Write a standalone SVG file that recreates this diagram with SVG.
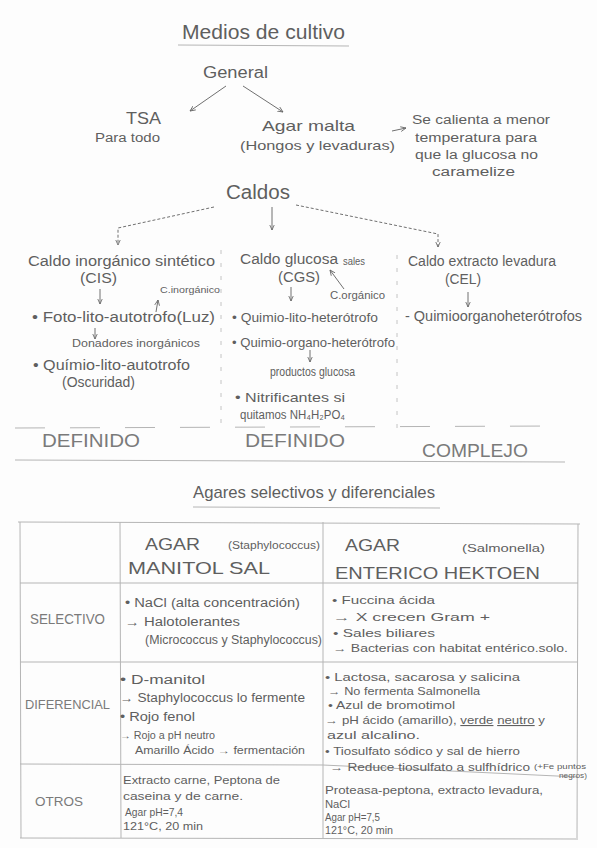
<svg xmlns="http://www.w3.org/2000/svg" width="597" height="848" viewBox="0 0 597 848">
<defs>
<marker id="ah" viewBox="0 0 10 10" refX="9" refY="5" markerWidth="6" markerHeight="6" orient="auto-start-reverse">
<path d="M0 1 L9 5 L0 9" fill="none" stroke="#666" stroke-width="1.4"/>
</marker>
<style>
.t{font-family:"Liberation Sans",Arial,sans-serif;fill:#5f5f5f;}
.lt{fill:#7a7a7a;}
.ln{stroke:#b5b5b5;stroke-width:1;fill:none;}
.sep{stroke:#c4c4c4;stroke-width:1;fill:none;stroke-dasharray:4 9;}
.ar{stroke:#707070;stroke-width:1;fill:none;marker-end:url(#ah);}
.da{stroke-dasharray:3 2;}
.u{text-decoration:underline;}
</style>
</defs>
<rect width="597" height="848" fill="#fdfdfd"/>

<g id="title">
<text class="t" x="182" y="39" font-size="20" textLength="163" lengthAdjust="spacingAndGlyphs">Medios de cultivo</text>
<path class="ln" d="M178 45 L349 46" stroke="#999"/>
</g>
<g id="general"><text class="t" x="203" y="78" font-size="16" textLength="65" lengthAdjust="spacingAndGlyphs">General</text></g>
<g id="tsa">
<text class="t" x="126" y="124" font-size="17" textLength="35" lengthAdjust="spacingAndGlyphs">TSA</text>
<text class="t" x="95" y="142" font-size="12" textLength="65" lengthAdjust="spacingAndGlyphs">Para todo</text>
</g>
<g id="agar-malta">
<text class="t" x="262" y="131" font-size="15" textLength="93" lengthAdjust="spacingAndGlyphs">Agar malta</text>
<text class="t" x="240" y="150" font-size="13" textLength="155" lengthAdjust="spacingAndGlyphs">(Hongos y levaduras)</text>
</g>
<g id="nota">
<text class="t" x="412" y="124" font-size="12" textLength="138" lengthAdjust="spacingAndGlyphs">Se calienta a menor</text>
<text class="t" x="415" y="142" font-size="12" textLength="122" lengthAdjust="spacingAndGlyphs">temperatura para</text>
<text class="t" x="415" y="159" font-size="12" textLength="123" lengthAdjust="spacingAndGlyphs">que la glucosa no</text>
<text class="t" x="432" y="176" font-size="12" textLength="83" lengthAdjust="spacingAndGlyphs">caramelize</text>
</g>
<g id="caldos"><text class="t" x="226" y="199" font-size="20" textLength="64" lengthAdjust="spacingAndGlyphs">Caldos</text></g>

<g id="cis">
<text class="t" x="28" y="266" font-size="14" textLength="187" lengthAdjust="spacingAndGlyphs">Caldo inorgánico sintético</text>
<text class="t" x="80" y="283" font-size="14" textLength="37" lengthAdjust="spacingAndGlyphs">(CIS)</text>
<text class="t" x="160" y="293" font-size="9" textLength="60" lengthAdjust="spacingAndGlyphs">C.inorgánico</text>
<text class="t" x="32" y="322" font-size="14" textLength="183" lengthAdjust="spacingAndGlyphs">• Foto-lito-autotrofo(Luz)</text>
<text class="t" x="72" y="347" font-size="10" textLength="128" lengthAdjust="spacingAndGlyphs">Donadores inorgánicos</text>
<text class="t" x="33" y="370" font-size="14" textLength="157" lengthAdjust="spacingAndGlyphs">• Químio-lito-autotrofo</text>
<text class="t" x="62" y="387" font-size="14" textLength="73" lengthAdjust="spacingAndGlyphs">(Oscuridad)</text>
</g>
<g id="cgs">
<text class="t" x="240" y="264" font-size="14" textLength="98" lengthAdjust="spacingAndGlyphs">Caldo glucosa</text>
<text class="t" x="343" y="265" font-size="11" textLength="22" lengthAdjust="spacingAndGlyphs">sales</text>
<text class="t" x="278" y="282" font-size="14" textLength="42" lengthAdjust="spacingAndGlyphs">(CGS)</text>
<text class="t" x="330" y="299" font-size="10" textLength="55" lengthAdjust="spacingAndGlyphs">C.orgánico</text>
<text class="t" x="232" y="322" font-size="13" textLength="146" lengthAdjust="spacingAndGlyphs">• Quimio-lito-heterótrofo</text>
<text class="t" x="232" y="347" font-size="13" textLength="163" lengthAdjust="spacingAndGlyphs">• Quimio-organo-heterótrofo</text>
<text class="t" x="270" y="376" font-size="13" textLength="85" lengthAdjust="spacingAndGlyphs">productos glucosa</text>
<text class="t" x="235" y="402" font-size="13" textLength="110" lengthAdjust="spacingAndGlyphs">• Nitrificantes si</text>
<text class="t" x="240" y="419" font-size="12" textLength="105" lengthAdjust="spacingAndGlyphs">quitamos NH₄H₂PO₄</text>
</g>
<g id="cel">
<text class="t" x="408" y="266" font-size="14" textLength="148" lengthAdjust="spacingAndGlyphs">Caldo extracto levadura</text>
<text class="t" x="445" y="284" font-size="14" textLength="36" lengthAdjust="spacingAndGlyphs">(CEL)</text>
<text class="t" x="405" y="321" font-size="14" textLength="177" lengthAdjust="spacingAndGlyphs">- Quimioorganoheterótrofos</text>
</g>
<g id="tipos">
<text class="t lt" x="42" y="447" font-size="18" textLength="98" lengthAdjust="spacingAndGlyphs">DEFINIDO</text>
<text class="t lt" x="245" y="447" font-size="18" textLength="100" lengthAdjust="spacingAndGlyphs">DEFINIDO</text>
<text class="t lt" x="422" y="457" font-size="18" textLength="106" lengthAdjust="spacingAndGlyphs">COMPLEJO</text>
</g>

<g id="marco-caldos">
<path class="sep" d="M221 250 L221 432"/>
<path class="sep" d="M397 255 L397 432"/>
<path class="ln" d="M15 428 L560 426" stroke="#cfcfcf" stroke-dasharray="30 25"/>
<path class="ln" d="M15 460 L565 462" stroke="#c8c8c8"/>
</g>

<g id="connectors">
<path class="ar" d="M226 86 L190 111"/>
<path class="ar" d="M243 86 L283 112"/>
<path class="ar" d="M392 131 L406 128"/>
<path class="ar da" d="M214 207 L118 228 L118 245"/>
<path class="ar" d="M272 207 L272 230"/>
<path class="ar da" d="M296 205 L438 234 L438 247"/>
<path class="ar" d="M100 289 L100 304"/>
<path class="ar" d="M156 312 L158 300"/>
<path class="ar" d="M95 328 L95 339"/>
<path class="ar" d="M291 287 L291 301"/>
<path class="ar" d="M344 289 L330 270"/>
<path class="ar" d="M310 350 L310 362"/>
<path class="ar" d="M468 292 L468 307"/>
</g>

<g id="titulo-agares">
<text class="t" x="193" y="498" font-size="17" textLength="242" lengthAdjust="spacingAndGlyphs">Agares selectivos y diferenciales</text>
<path class="ln" d="M193 507 L440 508" stroke="#999"/>
</g>

<g id="tabla">
<path class="ln" d="M18 522 L580 524"/>
<path class="ln" d="M20 522 L21 838"/>
<path class="ln" d="M120 522 L121 838"/>
<path class="ln" d="M323 522 L323 838"/>
<path class="ln" d="M578 524 L577 838"/>
<path class="ln" d="M20 583 L578 583"/>
<path class="ln" d="M20 662 L578 662"/>
<path class="ln" d="M20 764 L323 765 L578 777"/>
<path class="ln" d="M20 838 L578 839"/>
</g>

<g id="header-manitol">
<text class="t" x="145" y="550" font-size="16" textLength="55" lengthAdjust="spacingAndGlyphs">AGAR</text>
<text class="t" x="228" y="549" font-size="10" textLength="92" lengthAdjust="spacingAndGlyphs">(Staphylococcus)</text>
<text class="t" x="128" y="574" font-size="17" textLength="142" lengthAdjust="spacingAndGlyphs">MANITOL SAL</text>
</g>
<g id="header-hektoen">
<text class="t" x="345" y="551" font-size="16" textLength="55" lengthAdjust="spacingAndGlyphs">AGAR</text>
<text class="t" x="462" y="552" font-size="11" textLength="83" lengthAdjust="spacingAndGlyphs">(Salmonella)</text>
<text class="t" x="335" y="579" font-size="17" textLength="205" lengthAdjust="spacingAndGlyphs">ENTERICO HEKTOEN</text>
</g>

<g id="selectivo">
<text class="t lt" x="30" y="624" font-size="14" textLength="75" lengthAdjust="spacingAndGlyphs">SELECTIVO</text>
<text class="t" x="125" y="607" font-size="12" textLength="175" lengthAdjust="spacingAndGlyphs">• NaCl (alta concentración)</text>
<text class="t" x="125" y="626" font-size="12" textLength="115" lengthAdjust="spacingAndGlyphs">→ Halotolerantes</text>
<text class="t" x="145" y="644" font-size="12" textLength="177" lengthAdjust="spacingAndGlyphs">(Micrococcus y Staphylococcus)</text>
<text class="t" x="332" y="604" font-size="11" textLength="103" lengthAdjust="spacingAndGlyphs">• Fuccina ácida</text>
<text class="t" x="333" y="621" font-size="11" textLength="157" lengthAdjust="spacingAndGlyphs">→ X crecen Gram +</text>
<text class="t" x="333" y="637" font-size="11" textLength="102" lengthAdjust="spacingAndGlyphs">• Sales biliares</text>
<text class="t" x="333" y="652" font-size="11" textLength="235" lengthAdjust="spacingAndGlyphs">→ Bacterias con habitat entérico.solo.</text>
</g>

<g id="diferencial">
<text class="t lt" x="25" y="709" font-size="13" textLength="85" lengthAdjust="spacingAndGlyphs">DIFERENCIAL</text>
<text class="t" x="120" y="684" font-size="12" textLength="85" lengthAdjust="spacingAndGlyphs">• D-manitol</text>
<text class="t" x="120" y="702" font-size="12" textLength="185" lengthAdjust="spacingAndGlyphs">→ Staphylococcus lo fermente</text>
<text class="t" x="120" y="721" font-size="12" textLength="75" lengthAdjust="spacingAndGlyphs">• Rojo fenol</text>
<text class="t" x="120" y="739" font-size="10" textLength="95" lengthAdjust="spacingAndGlyphs">→ Rojo a pH neutro</text>
<text class="t" x="135" y="754" font-size="10" textLength="170" lengthAdjust="spacingAndGlyphs">Amarillo Ácido → fermentación</text>
<text class="t" x="325" y="681" font-size="11" textLength="195" lengthAdjust="spacingAndGlyphs">• Lactosa, sacarosa y salicina</text>
<text class="t" x="328" y="695" font-size="11" textLength="152" lengthAdjust="spacingAndGlyphs">→ No fermenta Salmonella</text>
<text class="t" x="328" y="709" font-size="11" textLength="127" lengthAdjust="spacingAndGlyphs">• Azul de bromotimol</text>
<text class="t" x="325" y="724" font-size="11" textLength="220" lengthAdjust="spacingAndGlyphs">→ pH ácido (amarillo), <tspan class="u">verde</tspan> <tspan class="u">neutro</tspan> y</text>
<text class="t" x="327" y="739" font-size="11" textLength="93" lengthAdjust="spacingAndGlyphs">azul alcalino.</text>
<text class="t" x="325" y="755" font-size="11" textLength="195" lengthAdjust="spacingAndGlyphs">• Tiosulfato sódico y sal de hierro</text>
<text class="t" x="330" y="771" font-size="11" textLength="200" lengthAdjust="spacingAndGlyphs">→ Reduce tiosulfato a sulfhídrico</text>
<text class="t" x="534" y="769" font-size="8" textLength="52" lengthAdjust="spacingAndGlyphs">(+Fe puntos</text>
<text class="t" x="559" y="778" font-size="7" textLength="28" lengthAdjust="spacingAndGlyphs">negros)</text>
</g>

<g id="otros">
<text class="t lt" x="35" y="806" font-size="13" textLength="48" lengthAdjust="spacingAndGlyphs">OTROS</text>
<text class="t" x="123" y="784" font-size="10.5" textLength="157" lengthAdjust="spacingAndGlyphs">Extracto carne, Peptona de</text>
<text class="t" x="123" y="800" font-size="10.5" textLength="120" lengthAdjust="spacingAndGlyphs">caseina y de carne.</text>
<text class="t" x="125" y="816" font-size="10.5" textLength="58" lengthAdjust="spacingAndGlyphs">Agar pH=7,4</text>
<text class="t" x="123" y="830" font-size="10.5" textLength="80" lengthAdjust="spacingAndGlyphs">121°C, 20 min</text>
<text class="t" x="325" y="794" font-size="10.5" textLength="218" lengthAdjust="spacingAndGlyphs">Proteasa-peptona, extracto levadura,</text>
<text class="t" x="325" y="808" font-size="10.5" textLength="25" lengthAdjust="spacingAndGlyphs">NaCl</text>
<text class="t" x="325" y="821" font-size="10.5" textLength="55" lengthAdjust="spacingAndGlyphs">Agar pH=7,5</text>
<text class="t" x="325" y="834" font-size="10.5" textLength="68" lengthAdjust="spacingAndGlyphs">121°C, 20 min</text>
</g>
</svg>
